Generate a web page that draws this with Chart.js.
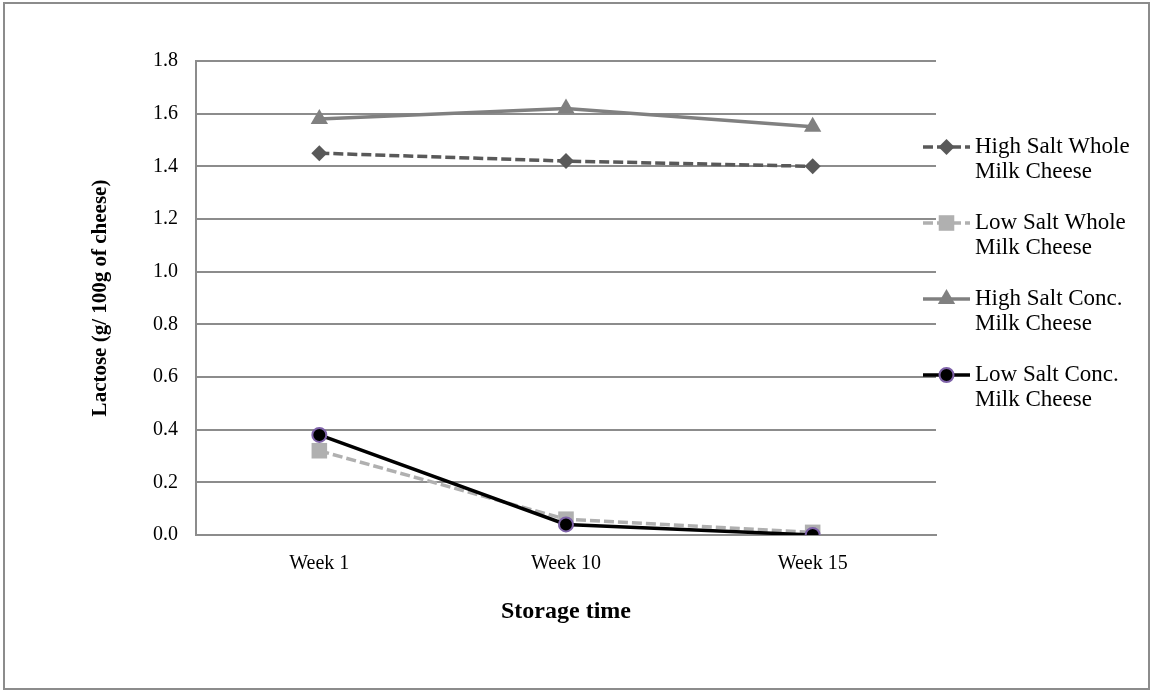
<!DOCTYPE html>
<html>
<head>
<meta charset="utf-8">
<script src="https://cdn.jsdelivr.net/npm/chart.js@4"></script>
<style>
  html, body { margin: 0; padding: 0; background: #fff; }
  #wrap { width: 1151px; height: 692px; }
</style>
</head>
<body>
<div id="wrap"><canvas id="lactoseChart" width="1151" height="692"></canvas></div>
<script>
// data
const weeks = ["Week 1", "Week 10", "Week 15"];
const yTicks = [0, 0.2, 0.4, 0.6, 0.8, 1.0, 1.2, 1.4, 1.6, 1.8];
const highSaltWhole = [1.45, 1.42, 1.40];
const lowSaltWhole = [0.32, 0.06, 0.01];
const highSaltConc = [1.58, 1.62, 1.55];
const lowSaltConc = [0.38, 0.04, 0.0];
const seriesNames = [
  ["High Salt Whole", "Milk Cheese"],
  ["Low Salt Whole", "Milk Cheese"],
  ["High Salt Conc.", "Milk Cheese"],
  ["Low Salt Conc.", "Milk Cheese"],
];

const serif = "'Liberation Serif', 'Times New Roman', serif";

// draw one marker (used for the legend)
function drawMarker(ctx, ds, x, y) {
  const r = ds.pointRadius;
  ctx.save();
  ctx.fillStyle = ds.pointBackgroundColor;
  ctx.strokeStyle = ds.pointBorderColor;
  ctx.lineWidth = ds.pointBorderWidth;
  ctx.setLineDash([]);
  ctx.beginPath();
  if (ds.pointStyle === "rectRot") {
    ctx.moveTo(x, y - r); ctx.lineTo(x + r, y); ctx.lineTo(x, y + r); ctx.lineTo(x - r, y);
  } else if (ds.pointStyle === "rect") {
    const s = Math.SQRT1_2 * r;
    ctx.rect(x - s, y - s, 2 * s, 2 * s);
  } else if (ds.pointStyle === "triangle") {
    ctx.moveTo(x, y - r);
    ctx.lineTo(x + r * Math.sin(Math.PI * 2 / 3), y - r * Math.cos(Math.PI * 2 / 3));
    ctx.lineTo(x - r * Math.sin(Math.PI * 2 / 3), y - r * Math.cos(Math.PI * 2 / 3));
  } else {
    ctx.arc(x, y, r, 0, Math.PI * 2);
  }
  ctx.closePath();
  ctx.fill();
  if (ds.pointBorderWidth) ctx.stroke();
  ctx.restore();
}

// outer frame + legend on the right
const framePlugin = {
  id: "frame",
  beforeDraw(chart) {
    const ctx = chart.ctx;
    ctx.save();
    ctx.strokeStyle = "#8c8c8c";
    ctx.lineWidth = 2;
    ctx.strokeRect(4, 3, 1145, 686);
    ctx.restore();
  },
  afterDraw(chart) {
    const ctx = chart.ctx;
    const x0 = 923, x1 = 970, tx = 975;
    chart.data.datasets.forEach((ds, i) => {
      const y = 147 + i * 76;
      ctx.save();
      ctx.strokeStyle = ds.borderColor;
      ctx.lineWidth = ds.borderWidth;
      ctx.setLineDash(ds.borderDash || []);
      ctx.beginPath();
      ctx.moveTo(x0, y);
      ctx.lineTo(x1, y);
      ctx.stroke();
      ctx.restore();
      drawMarker(ctx, ds, (x0 + x1) / 2, y);
      ctx.save();
      ctx.fillStyle = "#000";
      ctx.font = "23px " + serif;
      ctx.textBaseline = "middle";
      ctx.textAlign = "left";
      seriesNames[i].forEach((line, j) => ctx.fillText(line, tx, y + j * 25));
      ctx.restore();
    });
  },
};

new Chart(document.getElementById("lactoseChart"), {
  type: "line",
  data: {
    labels: weeks,
    datasets: [
      {
        label: seriesNames[0].join(" "),
        data: highSaltWhole,
        borderColor: "#595959",
        borderWidth: 3.5,
        borderDash: [10, 4],
        pointStyle: "rectRot",
        pointRadius: 8,
        pointBackgroundColor: "#595959",
        pointBorderColor: "#595959",
        pointBorderWidth: 0,
        order: 3,
      },
      {
        label: seriesNames[1].join(" "),
        data: lowSaltWhole,
        borderColor: "#b0b0b0",
        borderWidth: 3.5,
        borderDash: [10, 4],
        pointStyle: "rect",
        pointRadius: 11,
        pointBackgroundColor: "#b0b0b0",
        pointBorderColor: "#b0b0b0",
        pointBorderWidth: 0,
        order: 2,
      },
      {
        label: seriesNames[2].join(" "),
        data: highSaltConc,
        borderColor: "#808080",
        borderWidth: 3.5,
        pointStyle: "triangle",
        pointRadius: 10,
        pointBackgroundColor: "#808080",
        pointBorderColor: "#808080",
        pointBorderWidth: 0,
        order: 1,
      },
      {
        label: seriesNames[3].join(" "),
        data: lowSaltConc,
        borderColor: "#000000",
        borderWidth: 3.5,
        pointStyle: "circle",
        pointRadius: 7,
        pointBackgroundColor: "#000000",
        pointBorderColor: "#7e62a8",
        pointBorderWidth: 2,
        order: 0,
      },
    ],
  },
  options: {
    responsive: false,
    animation: false,
    devicePixelRatio: 1,
    layout: { padding: { left: 0, top: 61, right: 215, bottom: 0 } },
    elements: { line: { tension: 0 } },
    plugins: {
      legend: { display: false },
      tooltip: { enabled: false },
    },
    scales: {
      x: {
        offset: true,
        grid: { display: false, drawTicks: false },
        border: { display: true, color: "#8c8c8c", width: 2 },
        ticks: { color: "#000", font: { family: serif, size: 20 }, padding: 17 },
        title: {
          display: true,
          text: "Storage time",
          color: "#000",
          font: { family: serif, size: 24, weight: "bold" },
          padding: { bottom: 66 },
        },
        afterFit: (scale) => { scale.height = 157; },
      },
      y: {
        min: 0,
        max: 1.8,
        afterBuildTicks: (scale) => { scale.ticks = yTicks.map((v) => ({ value: v })); },
        grid: { color: "#8c8c8c", lineWidth: 2, drawTicks: false },
        border: { display: true, color: "#8c8c8c", width: 2 },
        ticks: {
          color: "#000",
          font: { family: serif, size: 20 },
          padding: 18,
          callback: (v) => Number(v).toFixed(1),
        },
        title: {
          display: true,
          text: "Lactose (g/ 100g of cheese)",
          color: "#000",
          font: { family: serif, size: 21, weight: "bold" },
          padding: { top: 88 },
        },
        afterFit: (scale) => { scale.width = 196; },
      },
    },
  },
  plugins: [framePlugin],
});
</script>
</body>
</html>
